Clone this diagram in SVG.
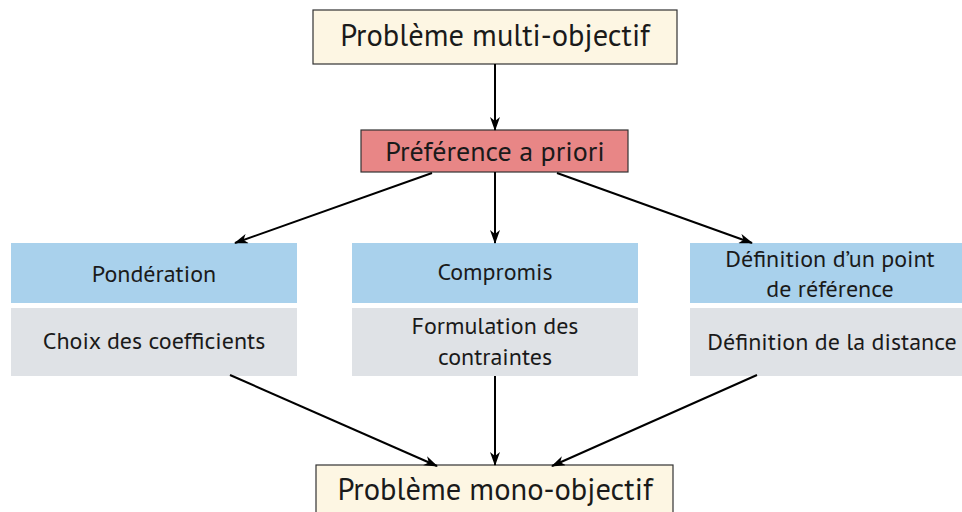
<svg xmlns="http://www.w3.org/2000/svg" width="962" height="512" viewBox="0 0 962 512">
<defs>
<style>
text{font-family:"PT Sans","Noto Sans","Liberation Sans",sans-serif;fill:#1a1a1a;text-anchor:middle}
.big{font-size:30.5px}
.mid{font-size:28px}
.sm{font-size:24px}
.cream{fill:#fdf6e3;stroke:#333;stroke-width:1.2}
.red{fill:#e88686;stroke:#333;stroke-width:1.2}
.blue{fill:#a9d1ec}
.gray{fill:#dfe2e6}
.conn line{stroke:#000;stroke-width:2;marker-end:url(#ah)}
</style>
<marker id="ah" viewBox="0 0 14 10" refX="13" refY="5" markerWidth="14" markerHeight="10" markerUnits="userSpaceOnUse" orient="auto">
<path d="M0,0 L14,5 L0,10 L4,5 Z" fill="#000"/>
</marker>
</defs>
<rect width="962" height="512" fill="#fff"/>
<g id="n-multi"><rect class="cream" x="313" y="10" width="364" height="54"/><text class="big" x="495" y="46">Problème multi-objectif</text></g>
<g id="n-pref"><rect class="red" x="361" y="130" width="267" height="42"/><text class="mid" x="495" y="161">Préférence a priori</text></g>
<g id="n-pond"><rect class="blue" x="11" y="243" width="286" height="60"/><text class="sm" x="154" y="282">Pondération</text></g>
<g id="n-choix"><rect class="gray" x="11" y="308" width="286" height="68"/><text class="sm" x="154" y="349">Choix des coefficients</text></g>
<g id="n-comp"><rect class="blue" x="352" y="243" width="286" height="60"/><text class="sm" x="495" y="280">Compromis</text></g>
<g id="n-form"><rect class="gray" x="352" y="308" width="286" height="68"/><text class="sm" x="495" y="334">Formulation des</text><text class="sm" x="495" y="365">contraintes</text></g>
<g id="n-defp"><rect class="blue" x="690" y="243" width="286" height="60"/><text class="sm" x="830" y="267">Définition d’un point</text><text class="sm" x="830" y="297">de référence</text></g>
<g id="n-defd"><rect class="gray" x="690" y="308" width="286" height="68"/><text class="sm" x="832" y="350">Définition de la distance</text></g>
<g id="n-mono"><rect class="cream" x="316" y="465" width="357" height="60"/><text class="big" x="495" y="500">Problème mono-objectif</text></g>
<g class="conn" id="connectors">
<line x1="495" y1="64" x2="495" y2="130"/>
<line x1="432" y1="173" x2="235" y2="243"/>
<line x1="495" y1="172" x2="495" y2="243"/>
<line x1="557" y1="173" x2="752" y2="243"/>
<line x1="230" y1="375" x2="437" y2="466"/>
<line x1="495" y1="376" x2="495" y2="465"/>
<line x1="757" y1="375" x2="552" y2="466"/>
</g>
</svg>
